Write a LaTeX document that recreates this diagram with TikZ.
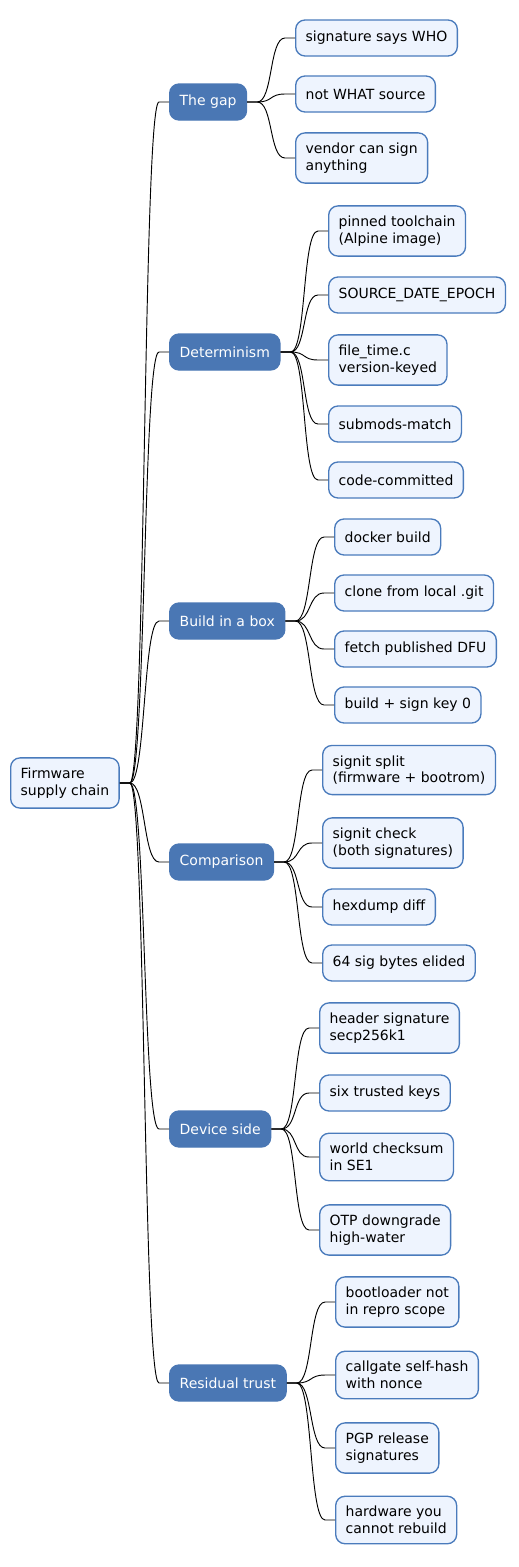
\documentclass[tikz,border=0pt]{standalone}
\usepackage{fontspec}
\setmainfont{DejaVu Sans}
\definecolor{leaffill}{HTML}{EEF4FE}
\definecolor{boxline}{HTML}{4A7BBC}
\definecolor{topicfill}{HTML}{4A77B4}
\begin{document}
\begin{tikzpicture}[x=0.75pt,y=-0.75pt,
every node/.style={font=\fontsize{10.5}{12.5}\selectfont,align=left,anchor=west,rounded corners=7pt,
  line width=1pt,inner xsep=7.5pt,inner ysep=7.5pt,minimum height=27pt},
leaf/.style={draw=boxline,fill=leaffill,text=black},
topic/.style={draw=topicfill,fill=topicfill,text=white},
link/.style={line width=0.7pt,to path={(\tikztostart.east) -- ++(7.5pt,0)
  .. controls +(12pt,0) and +(-12pt,0) .. ([xshift=-7.5pt]\tikztotarget.west) -- (\tikztotarget.west)}}]
\useasboundingbox (0,0) rectangle (518,1567);
\node[leaf] (R) at (10,783) {Firmware\\supply chain};
% first level
\node[topic] (G) at (169,102) {The gap};
\node[topic] (D) at (169,352) {Determinism};
\node[topic] (B) at (169,621) {Build in a box};
\node[topic] (C) at (169,862) {Comparison};
\node[topic] (S) at (169,1129) {Device side};
\node[topic] (T) at (169,1383) {Residual trust};
% the gap
\node[leaf] (G1) at (295,38) {signature says WHO};
\node[leaf] (G2) at (295,94) {not WHAT source};
\node[leaf] (G3) at (295,158) {vendor can sign\\anything};
% determinism
\node[leaf] (D1) at (328,231) {pinned toolchain\\(Alpine image)};
\node[leaf] (D2) at (328,295) {SOURCE\_DATE\_EPOCH};
\node[leaf] (D3) at (328,360) {file\_time.c\\version-keyed};
\node[leaf] (D4) at (328,424) {submods-match};
\node[leaf] (D5) at (328,480) {code-committed};
% build in a box
\node[leaf] (B1) at (334,537) {docker build};
\node[leaf] (B2) at (334,593) {clone from local .git};
\node[leaf] (B3) at (334,649) {fetch published DFU};
\node[leaf] (B4) at (334,705) {build + sign key 0};
% comparison
\node[leaf] (C1) at (322,770) {signit split\\(firmware + bootrom)};
\node[leaf] (C2) at (322,843) {signit check\\(both signatures)};
\node[leaf] (C3) at (322,907) {hexdump diff};
\node[leaf] (C4) at (322,963) {64 sig bytes elided};
% device side
\node[leaf] (S1) at (319,1028) {header signature\\secp256k1};
\node[leaf] (S2) at (319,1093) {six trusted keys};
\node[leaf] (S3) at (319,1157) {world checksum\\in SE1};
\node[leaf] (S4) at (319,1230) {OTP downgrade\\high-water};
% residual trust
\node[leaf] (T1) at (335,1302) {bootloader not\\in repro scope};
\node[leaf] (T2) at (335,1375) {callgate self-hash\\with nonce};
\node[leaf] (T3) at (335,1448) {PGP release\\signatures};
\node[leaf] (T4) at (335,1520) {hardware you\\cannot rebuild};
\path[link]
(R) edge (G) edge (D) edge (B) edge (C) edge (S) edge (T)
(G) edge (G1) edge (G2) edge (G3)
(D) edge (D1) edge (D2) edge (D3) edge (D4) edge (D5)
(B) edge (B1) edge (B2) edge (B3) edge (B4)
(C) edge (C1) edge (C2) edge (C3) edge (C4)
(S) edge (S1) edge (S2) edge (S3) edge (S4)
(T) edge (T1) edge (T2) edge (T3) edge (T4);
\end{tikzpicture}
\end{document}
